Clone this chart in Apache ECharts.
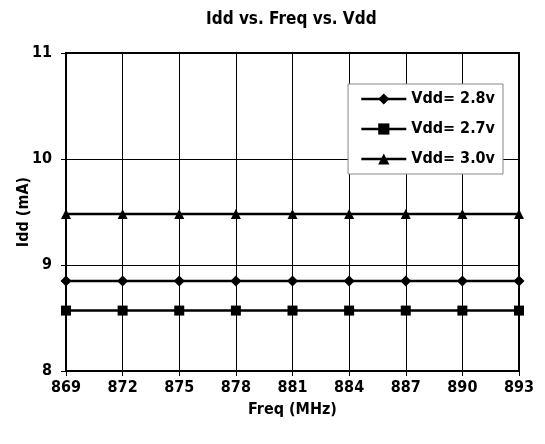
<!DOCTYPE html>
<html><head><meta charset="utf-8">
<script src="https://cdn.jsdelivr.net/npm/echarts@6/dist/echarts.min.js"></script>
<style>html,body{margin:0;padding:0;background:#fff}#c{width:545px;height:444px}</style>
</head><body><div id="c"></div>
<script>
var categories = ['869','872','875','878','881','884','887','890','893'];
var vdd28 = [8.85,8.85,8.85,8.85,8.85,8.85,8.85,8.85,8.85];
var vdd27 = [8.57,8.57,8.57,8.57,8.57,8.57,8.57,8.57,8.57];
var vdd30 = [9.48,9.48,9.48,9.48,9.48,9.48,9.48,9.48,9.48];
var FONT = '"DejaVu Sans Condensed", "Liberation Sans Narrow", sans-serif';
var chart = echarts.init(document.getElementById('c'));
function ser(name, data, sym, size) {
  return {name:name, type:'line', data:data, symbol:sym, symbolSize:size,
    lineStyle:{color:'#000', width:2.5}, itemStyle:{color:'#000'}, animation:false};
}
chart.setOption({
  backgroundColor:'#fff',
  animation:false,
  title:{text:'Idd vs. Freq vs. Vdd', left:201, top:6,
    textStyle:{fontFamily:FONT, fontWeight:'bold', fontSize:17, color:'#000'}},
  grid:{left:66, right:26, top:53, bottom:73, show:true, borderColor:'#000', borderWidth:2,
    backgroundColor:'transparent', outerBoundsMode:'none', containLabel:false},
  legend:{right:42, top:84, orient:'vertical', itemWidth:45, itemHeight:14, itemGap:14,
    padding:[7,8,7,12], borderColor:'#888', borderWidth:1, backgroundColor:'#fff',
    lineStyle:{width:2.5, color:'#000'},
    textStyle:{fontFamily:FONT, fontWeight:'bold', fontSize:16, color:'#000'},
    data:['Vdd= 2.8v','Vdd= 2.7v','Vdd= 3.0v']},
  xAxis:{type:'category', data:categories, boundaryGap:false,
    name:'Freq (MHz)', nameLocation:'middle', nameGap:31, nameMoveOverlap:false,
    nameTextStyle:{fontFamily:FONT, fontWeight:'bold', fontSize:16, color:'#000'},
    axisLine:{lineStyle:{color:'#000', width:2}},
    axisTick:{show:true, alignWithLabel:true, length:5, lineStyle:{color:'#000'}},
    axisLabel:{fontFamily:FONT, fontWeight:'bold', fontSize:16, color:'#000', margin:9},
    splitLine:{show:true, lineStyle:{color:'#000', width:1}}},
  yAxis:{type:'value', min:8, max:11, interval:1,
    name:'Idd (mA)', nameLocation:'middle', nameGap:34, nameMoveOverlap:false,
    nameTextStyle:{fontFamily:FONT, fontWeight:'bold', fontSize:16, color:'#000'},
    axisLine:{show:true, lineStyle:{color:'#000', width:2}},
    axisTick:{show:true, length:5, lineStyle:{color:'#000'}},
    axisLabel:{fontFamily:FONT, fontWeight:'bold', fontSize:16, color:'#000', margin:14},
    splitLine:{show:true, lineStyle:{color:'#000', width:1}}},
  series:[ser('Vdd= 2.8v', vdd28, 'diamond', 11), ser('Vdd= 2.7v', vdd27, 'rect', 10), ser('Vdd= 3.0v', vdd30, 'triangle', 10)]
});
</script></body></html>
